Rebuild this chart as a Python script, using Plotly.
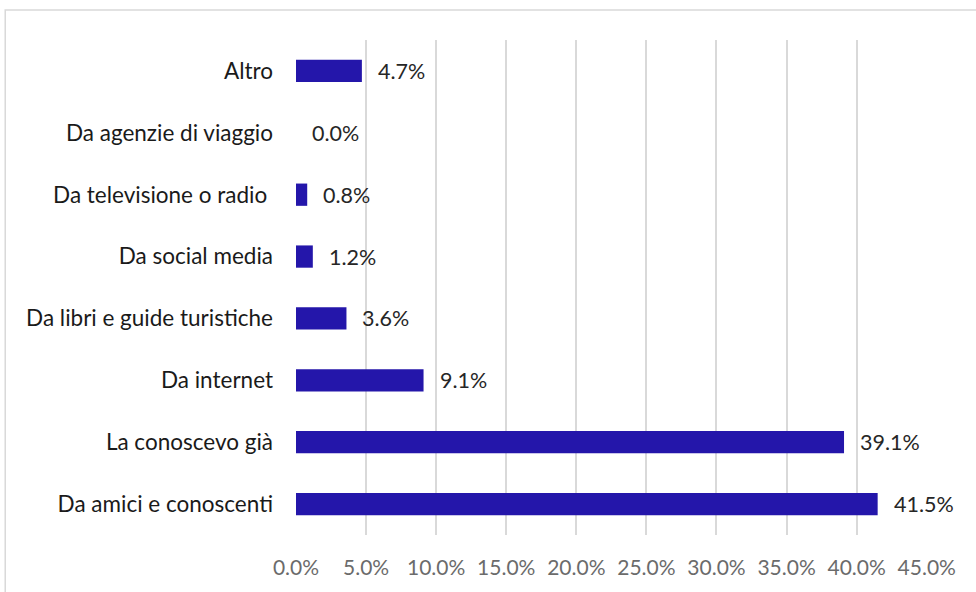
import plotly.graph_objects as go

# Survey: how respondents heard about the destination (share of answers, %)
categories = [
    "Da amici e conoscenti",
    "La conoscevo già",
    "Da internet",
    "Da libri e guide turistiche",
    "Da social media",
    "Da televisione o radio\u00a0",
    "Da agenzie di viaggio",
    "Altro",
]
values = [41.5, 39.1, 9.1, 3.6, 1.2, 0.8, 0.0, 4.7]
tick_vals = [0, 5, 10, 15, 20, 25, 30, 35, 40, 45]
tick_text = [f"{v:.1f}%" for v in tick_vals]

FONT = "Lato"
BAR = "#2416AA"

fig = go.Figure(
    go.Bar(
        y=categories,
        x=values,
        orientation="h",
        marker=dict(color=BAR, line=dict(width=0)),
        width=0.36,
        hoverinfo="skip",
    )
)

# value labels to the right of each bar
for cat, val in zip(categories, values):
    fig.add_annotation(
        x=val, y=cat, xref="x", yref="y",
        text=f"{val:.1f}%", showarrow=False,
        xanchor="left", yanchor="middle", xshift=14,
        font=dict(family=FONT, size=21.5, color="#262626"),
    )

# chart frame
fig.add_shape(
    type="rect", xref="paper", yref="paper",
    x0=-0.4608, x1=1.2, y0=-0.2, y1=1.0606,
    line=dict(color="#D9D9D9", width=1.5), fillcolor="rgba(0,0,0,0)",
    layer="below",
)

fig.update_layout(
    width=976, height=592,
    margin=dict(l=296, r=49, t=40, b=57),
    paper_bgcolor="white", plot_bgcolor="white",
    showlegend=False,
    xaxis=dict(
        range=[0, 45.02], tickvals=tick_vals, ticktext=tick_text,
        showgrid=True, gridcolor="#D9D9D9", gridwidth=1.5,
        zeroline=False, showline=False, ticks="",
        tickfont=dict(family=FONT, size=21, color="#6B6B6B"),
        ticklabelstandoff=18, fixedrange=True,
    ),
    yaxis=dict(
        categoryorder="array", categoryarray=categories,
        showgrid=False, zeroline=False, showline=False, ticks="",
        tickfont=dict(family=FONT, size=22.5, color="#1A1A1A"),
        ticklabelstandoff=22, fixedrange=True,
    ),
)

fig.write_html("out.html", config={"displayModeBar": False})
